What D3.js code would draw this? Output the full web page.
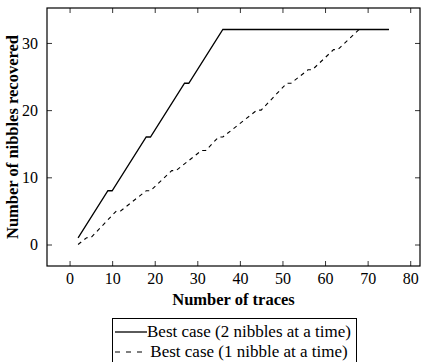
<!DOCTYPE html>
<html>
<head>
<meta charset="utf-8">
<script src="https://cdn.jsdelivr.net/npm/d3@7"></script>
<style>
  body { margin: 0; background: #fff; }
  svg, svg text { font-family: "Liberation Serif", "Times New Roman", serif; }
  svg { display: block; }
</style>
</head>
<body>
<svg width="426" height="362"></svg>
<script>
const svg = d3.select("svg"),
  width = +svg.attr("width"),
  height = +svg.attr("height");

// Datos
const twoTraces = [2, 9, 10, 18, 19, 27, 28, 36, 75];
const twoNibbles = [1, 8, 8, 16, 16, 24, 24, 32, 32];
const oneTraces = [2, 4, 5, 11, 12, 18, 19, 24, 25, 31, 32, 35, 36, 44, 45, 51, 52, 56, 57, 62, 63, 68, 75];
const oneNibbles = [0, 1, 1, 5, 5, 8, 8, 11, 11, 14, 14, 16, 16, 20, 20, 24, 24, 26, 26, 29, 29, 32, 32];
const xTicks = [0, 10, 20, 30, 40, 50, 60, 70, 80];
const yTicks = [0, 10, 20, 30];
const seriesNames = ["Best case (2 nibbles at a time)", "Best case (1 nibble at a time)"];

const margin = { top: 8, right: 6, bottom: 96, left: 47 };

const x = d3.scaleLinear().domain([-5.3, 82.3]).range([margin.left, width - margin.right]);
const y = d3.scaleLinear().domain([-3.2, 35.2]).range([height - margin.bottom, margin.top]);

const tickLen = 5;

// Marcas hacia dentro (estilo pgfplots)
svg.append("g")
  .attr("transform", `translate(0, ${y.range()[0]})`)
  .call(d3.axisBottom(x).tickValues(xTicks).tickSize(-tickLen).tickPadding(tickLen + 2))
  .call(g => g.select(".domain").remove());

svg.append("g")
  .attr("transform", `translate(0, ${y.range()[1]})`)
  .call(d3.axisTop(x).tickValues(xTicks).tickSize(-tickLen).tickFormat(""))
  .call(g => g.select(".domain").remove());

svg.append("g")
  .attr("transform", `translate(${x.range()[0]}, 0)`)
  .call(d3.axisLeft(y).tickValues(yTicks).tickSize(-tickLen).tickPadding(tickLen + 4))
  .call(g => g.select(".domain").remove());

svg.append("g")
  .attr("transform", `translate(${x.range()[1]}, 0)`)
  .call(d3.axisRight(y).tickValues(yTicks).tickSize(-tickLen).tickFormat(""))
  .call(g => g.select(".domain").remove());

svg.selectAll("g").attr("font-family", null);
svg.selectAll(".tick line").attr("stroke", "#000").attr("stroke-width", 0.8);
svg.selectAll(".tick text")
  .style("font-size", "16px")
  .attr("fill", "#000");

// Marco
svg.append("rect")
  .attr("x", x.range()[0])
  .attr("y", y.range()[1])
  .attr("width", x.range()[1] - x.range()[0])
  .attr("height", y.range()[0] - y.range()[1])
  .attr("fill", "none")
  .attr("stroke", "#000")
  .attr("stroke-width", 1.2);

// Líneas
const line = d3.line().x(d => x(d[0])).y(d => y(d[1]));

svg.append("path")
  .datum(twoTraces.map((t, i) => [t, twoNibbles[i]]))
  .attr("d", line)
  .attr("fill", "none")
  .attr("stroke", "#000")
  .attr("stroke-width", 1.3);

svg.append("path")
  .datum(oneTraces.map((t, i) => [t, oneNibbles[i]]))
  .attr("d", line)
  .attr("fill", "none")
  .attr("stroke", "#000")
  .attr("stroke-width", 1.1)
  .attr("stroke-dasharray", "4,4");

// Títulos de ejes
svg.append("text")
  .attr("x", (x.range()[0] + x.range()[1]) / 2)
  .attr("y", 305)
  .attr("text-anchor", "middle")
  .style("font-size", "16.5px")
  .style("font-weight", "bold")
  .text("Number of traces");

svg.append("text")
  .attr("transform", "rotate(-90)")
  .attr("x", -(y.range()[0] + y.range()[1]) / 2)
  .attr("y", 18)
  .attr("text-anchor", "middle")
  .style("font-size", "16.5px")
  .style("font-weight", "bold")
  .text("Number of nibbles recovered");

// Leyenda
const legend = svg.append("g");
legend.append("rect")
  .attr("x", 112.5).attr("y", 318.5)
  .attr("width", 244).attr("height", 60)
  .attr("fill", "#fff").attr("stroke", "#000").attr("stroke-width", 1);

seriesNames.forEach((name, i) => {
  const cy = 332 + i * 20;
  legend.append("line")
    .attr("x1", 115).attr("x2", 147)
    .attr("y1", cy).attr("y2", cy)
    .attr("stroke", "#000")
    .attr("stroke-width", i === 0 ? 1.3 : 1.1)
    .attr("stroke-dasharray", i === 0 ? null : "5,6");
  legend.append("text")
    .attr("x", 249).attr("y", cy + 5)
    .attr("text-anchor", "middle")
    .style("font-size", "17px")
    .text(name);
});
</script>
</body>
</html>
